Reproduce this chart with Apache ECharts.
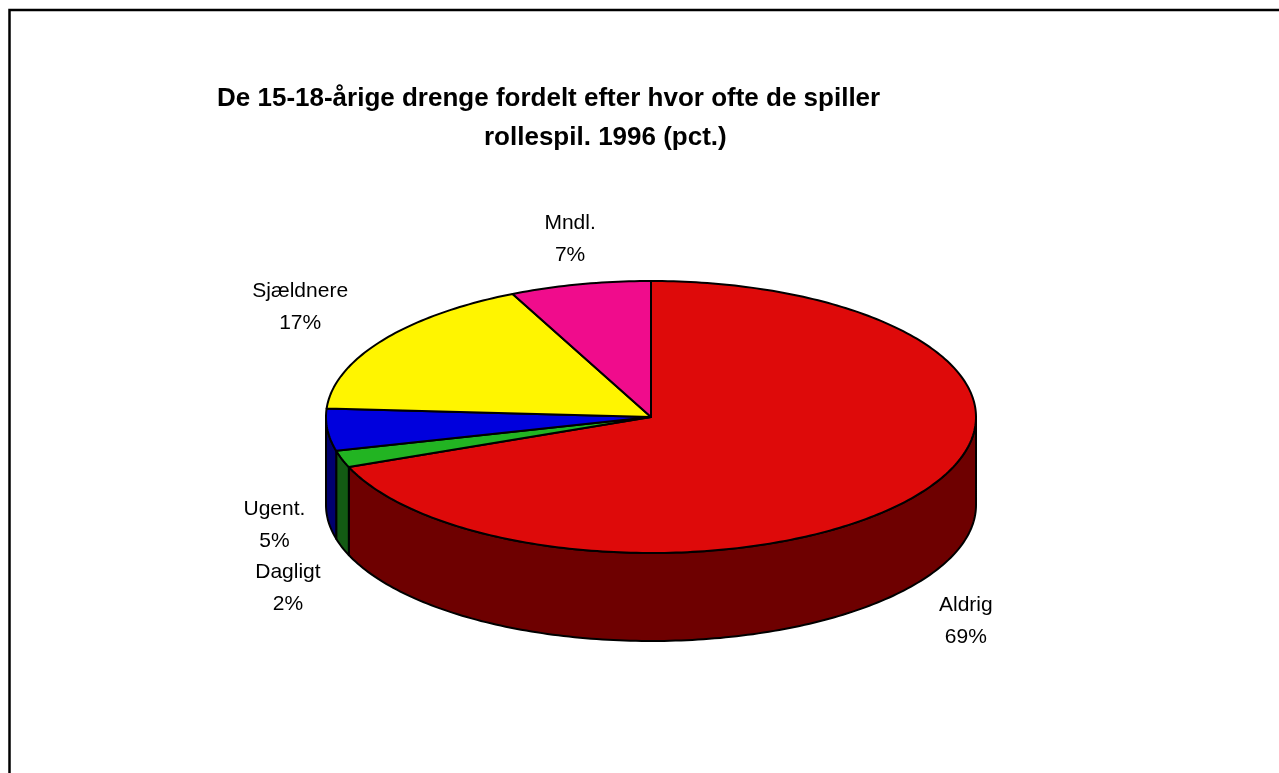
<!DOCTYPE html>
<html>
<head>
<meta charset="utf-8">
<script src="https://cdn.jsdelivr.net/npm/echarts@6/dist/echarts.min.js"></script>
<style>
  html, body { margin: 0; padding: 0; background: #fff; }
  #chart { width: 1279px; height: 773px; }
</style>
</head>
<body>
<div id="chart"></div>
<script>
// Slices, clockwise from 12 o'clock
const categories = ['Aldrig', 'Dagligt', 'Ugent.', 'Sjældnere', 'Mndl.'];
const shares = [69, 2, 5, 17, 7];
const titleLines = [
  'De 15-18-årige drenge fordelt efter hvor ofte de spiller',
  'rollespil. 1996 (pct.)'
];

// Styling: top faces and darker side walls
const topColors = ['#DE0A0A', '#22B422', '#0000DD', '#FFF500', '#F00C8C'];
const sideColors = ['#6E0000', '#135A13', '#00006E', '#7F7A00', '#780046'];
// Label nudges (px) from the outer rim point at each slice's mid-angle
const labelNudge = [[46, 40], [-54, 41], [-53, 7], [-82, -33], [-10, -45]];

// Tilted-disc geometry
const pie = { cx: 651, cy: 417, rx: 325, ry: 136, depth: 88 };

const total = shares.reduce((a, b) => a + b, 0);
const starts = [], ends = [];
shares.reduce((acc, v, i) => {
  starts[i] = acc / total * 360;
  ends[i] = (acc + v) / total * 360;
  return acc + v;
}, 0);

function rimPoint(deg, drop) {
  const r = deg * Math.PI / 180;
  return [pie.cx + pie.rx * Math.sin(r), pie.cy - pie.ry * Math.cos(r) + (drop || 0)];
}
function arc(a1, a2, drop) {
  const pts = [];
  const n = Math.max(2, Math.ceil(Math.abs(a2 - a1)));
  for (let k = 0; k <= n; k++) pts.push(rimPoint(a1 + (a2 - a1) * k / n, drop));
  return pts;
}

const fontFamily = '"Liberation Sans", Arial, sans-serif';

function renderItem(params, api) {
  const i = params.dataIndex;
  const a1 = starts[i], a2 = ends[i];
  const children = [];
  // visible outer wall: front half of the disc (90°..270°)
  const s1 = Math.max(a1, 90), s2 = Math.min(a2, 270);
  if (s2 > s1) {
    children.push({
      type: 'polygon',
      z2: 0,
      shape: { points: arc(s1, s2, 0).concat(arc(s2, s1, pie.depth)) },
      style: { fill: sideColors[i], stroke: '#000', lineWidth: 2, lineJoin: 'round' }
    });
  }
  // top face
  children.push({
    type: 'polygon',
    z2: 1,
    shape: { points: [[pie.cx, pie.cy]].concat(arc(a1, a2, 0)) },
    style: { fill: topColors[i], stroke: '#000', lineWidth: 2, lineJoin: 'round' }
  });
  // label
  const mid = (a1 + a2) / 2;
  const front = Math.cos(mid * Math.PI / 180) < 0;
  const anchor = rimPoint(mid, front ? pie.depth : 0);
  children.push({
    type: 'text',
    z2: 2,
    x: anchor[0] + labelNudge[i][0],
    y: anchor[1] + labelNudge[i][1],
    style: {
      text: categories[i] + '\n' + api.value(0) + '%',
      fill: '#000',
      font: '21px ' + fontFamily,
      align: 'center',
      verticalAlign: 'middle',
      lineHeight: 32
    }
  });
  return { type: 'group', children: children };
}

const chart = echarts.init(document.getElementById('chart'));
chart.setOption({
  animation: false,
  backgroundColor: '#fff',
  title: [
    {
      text: titleLines[0], left: 217, top: 86, padding: 0,
      textStyle: { fontSize: 26, fontWeight: 'bold', color: '#000', fontFamily: fontFamily }
    },
    {
      text: titleLines[1], left: 484, top: 125, padding: 0,
      textStyle: { fontSize: 26, fontWeight: 'bold', color: '#000', fontFamily: fontFamily }
    }
  ],
  graphic: [{
    type: 'rect', silent: true, z: -1,
    shape: { x: 9.5, y: 10, width: 1400, height: 1000 },
    style: { fill: 'none', stroke: '#000', lineWidth: 2.5 }
  }],
  series: [{
    type: 'custom',
    coordinateSystem: 'none',
    renderItem: renderItem,
    data: shares.map((v, i) => ({ name: categories[i], value: [v] }))
  }]
});
</script>
</body>
</html>
